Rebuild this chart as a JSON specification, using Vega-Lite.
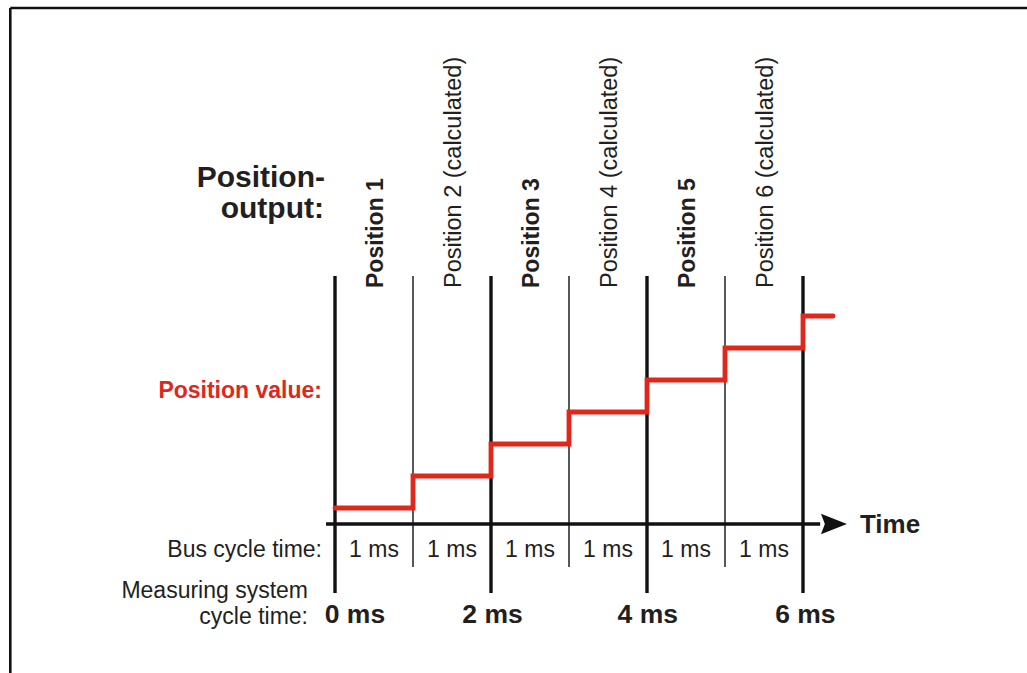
{
  "$schema": "https://vega.github.io/schema/vega-lite/v6.json",
  "width": 1027,
  "height": 673,
  "autosize": {"type": "fit", "contains": "padding"},
  "padding": 0,
  "background": "white",
  "config": {"view": {"stroke": null}},
  "datasets": {
    "lines": [
      {"t": -4.163, "t2": 8.872, "v": 16.625, "v2": 16.625, "kind": "frame"},
      {"t": -4.163, "t2": -4.163, "v": 16.625, "v2": -4.156, "kind": "frame"},
      {"t": 0, "t2": 0, "v": 8.25, "v2": -1.656, "kind": "thick"},
      {"t": 2, "t2": 2, "v": 8.25, "v2": -1.656, "kind": "thick"},
      {"t": 4, "t2": 4, "v": 8.25, "v2": -1.656, "kind": "thick"},
      {"t": 6, "t2": 6, "v": 8.25, "v2": -1.656, "kind": "thick"},
      {"t": 1, "t2": 1, "v": 8.25, "v2": -0.844, "kind": "thin"},
      {"t": 3, "t2": 3, "v": 8.25, "v2": -0.844, "kind": "thin"},
      {"t": 5, "t2": 5, "v": 8.25, "v2": -0.844, "kind": "thin"},
      {"t": -0.115, "t2": 6.22, "v": 0.5, "v2": 0.5, "kind": "axis"}
    ],
    "position": [
      {"t": 0, "v": 1},
      {"t": 1, "v": 2},
      {"t": 2, "v": 3},
      {"t": 3, "v": 4},
      {"t": 4, "v": 5},
      {"t": 5, "v": 6},
      {"t": 6, "v": 7},
      {"t": 6.385, "v": 7}
    ],
    "arrow": [{"t": 6.397, "v": 0.5}],
    "labels": [
      {"label": "Position-", "t": -0.128, "v": 11.03, "role": "heading"},
      {"label": "output:", "t": -0.141, "v": 10.06, "role": "heading"},
      {"label": "Position value:", "t": -0.167, "v": 4.44, "role": "value"},
      {"label": "Bus cycle time:", "t": -0.167, "v": -0.53, "role": "row"},
      {"label": "Measuring system", "t": -0.346, "v": -1.81, "role": "row"},
      {"label": "cycle time:", "t": -0.346, "v": -2.62, "role": "row"},
      {"label": "1 ms", "t": 0.5, "v": -0.53, "role": "bus"},
      {"label": "1 ms", "t": 1.5, "v": -0.53, "role": "bus"},
      {"label": "1 ms", "t": 2.5, "v": -0.53, "role": "bus"},
      {"label": "1 ms", "t": 3.5, "v": -0.53, "role": "bus"},
      {"label": "1 ms", "t": 4.5, "v": -0.53, "role": "bus"},
      {"label": "1 ms", "t": 5.5, "v": -0.53, "role": "bus"},
      {"label": "0 ms", "t": 0.256, "v": -2.6, "role": "ms"},
      {"label": "2 ms", "t": 2.02, "v": -2.6, "role": "ms"},
      {"label": "4 ms", "t": 4.01, "v": -2.6, "role": "ms"},
      {"label": "6 ms", "t": 6.03, "v": -2.6, "role": "ms"},
      {"label": "Time", "t": 6.73, "v": 0.22, "role": "time"},
      {"label": "Position 1", "t": 0.53, "v": 7.875, "role": "main"},
      {"label": "Position 2 (calculated)", "t": 1.53, "v": 7.875, "role": "calc"},
      {"label": "Position 3", "t": 2.53, "v": 7.875, "role": "main"},
      {"label": "Position 4 (calculated)", "t": 3.53, "v": 7.875, "role": "calc"},
      {"label": "Position 5", "t": 4.53, "v": 7.875, "role": "main"},
      {"label": "Position 6 (calculated)", "t": 5.53, "v": 7.875, "role": "calc"}
    ]
  },
  "encoding": {
    "x": {"field": "t", "type": "quantitative", "scale": {"domain": [-4.295, 8.872], "nice": false, "zero": false}, "axis": null},
    "y": {"field": "v", "type": "quantitative", "scale": {"domain": [-4.15625, 16.875], "nice": false, "zero": false}, "axis": null}
  },
  "layer": [
    {
      "data": {"name": "lines"},
      "mark": {"type": "rule", "color": "#111111", "clip": true, "strokeCap": "butt"},
      "encoding": {
        "x2": {"field": "t2"},
        "y2": {"field": "v2"},
        "strokeWidth": {"field": "kind", "type": "nominal", "scale": {"type": "ordinal", "domain": ["frame", "thick", "thin", "axis"], "range": [2.6, 3.4, 1.4, 3.5]}, "legend": null}
      }
    },
    {
      "data": {"name": "arrow"},
      "mark": {"type": "point", "shape": "M-1,-0.78L1,0L-1,0.78L-0.7,0Z", "size": 676, "filled": true, "color": "#111111", "opacity": 1, "strokeWidth": 0}
    },
    {
      "data": {"name": "position"},
      "mark": {"type": "line", "interpolate": "step-after", "color": "#e1261c", "strokeWidth": 4.8, "strokeCap": "round", "strokeJoin": "miter"}
    },
    {
      "data": {"name": "labels"},
      "transform": [{"filter": "datum.role === 'heading'"}],
      "mark": {"type": "text", "align": "right", "baseline": "alphabetic", "font": "Liberation Sans", "fontWeight": "bold", "fontSize": 30, "color": "#231f20"},
      "encoding": {"text": {"field": "label"}}
    },
    {
      "data": {"name": "labels"},
      "transform": [{"filter": "datum.role === 'value'"}],
      "mark": {"type": "text", "align": "right", "baseline": "alphabetic", "font": "Liberation Sans", "fontWeight": "bold", "fontSize": 23, "color": "#e1261c"},
      "encoding": {"text": {"field": "label"}}
    },
    {
      "data": {"name": "labels"},
      "transform": [{"filter": "datum.role === 'row'"}],
      "mark": {"type": "text", "align": "right", "baseline": "alphabetic", "font": "Liberation Sans", "fontSize": 23, "color": "#231f20"},
      "encoding": {"text": {"field": "label"}}
    },
    {
      "data": {"name": "labels"},
      "transform": [{"filter": "datum.role === 'bus'"}],
      "mark": {"type": "text", "align": "center", "baseline": "alphabetic", "font": "Liberation Sans", "fontSize": 23, "color": "#231f20"},
      "encoding": {"text": {"field": "label"}}
    },
    {
      "data": {"name": "labels"},
      "transform": [{"filter": "datum.role === 'ms'"}],
      "mark": {"type": "text", "align": "center", "baseline": "alphabetic", "font": "Liberation Sans", "fontWeight": "bold", "fontSize": 26.5, "color": "#231f20"},
      "encoding": {"text": {"field": "label"}}
    },
    {
      "data": {"name": "labels"},
      "transform": [{"filter": "datum.role === 'time'"}],
      "mark": {"type": "text", "align": "left", "baseline": "alphabetic", "font": "Liberation Sans", "fontWeight": "bold", "fontSize": 26, "color": "#231f20"},
      "encoding": {"text": {"field": "label"}}
    },
    {
      "data": {"name": "labels"},
      "transform": [{"filter": "datum.role === 'main'"}],
      "mark": {"type": "text", "angle": 270, "align": "left", "baseline": "middle", "font": "Liberation Sans", "fontWeight": "bold", "fontSize": 23, "color": "#231f20"},
      "encoding": {"text": {"field": "label"}}
    },
    {
      "data": {"name": "labels"},
      "transform": [{"filter": "datum.role === 'calc'"}],
      "mark": {"type": "text", "angle": 270, "align": "left", "baseline": "middle", "font": "Liberation Sans", "fontSize": 23.5, "color": "#231f20"},
      "encoding": {"text": {"field": "label"}}
    }
  ]
}
